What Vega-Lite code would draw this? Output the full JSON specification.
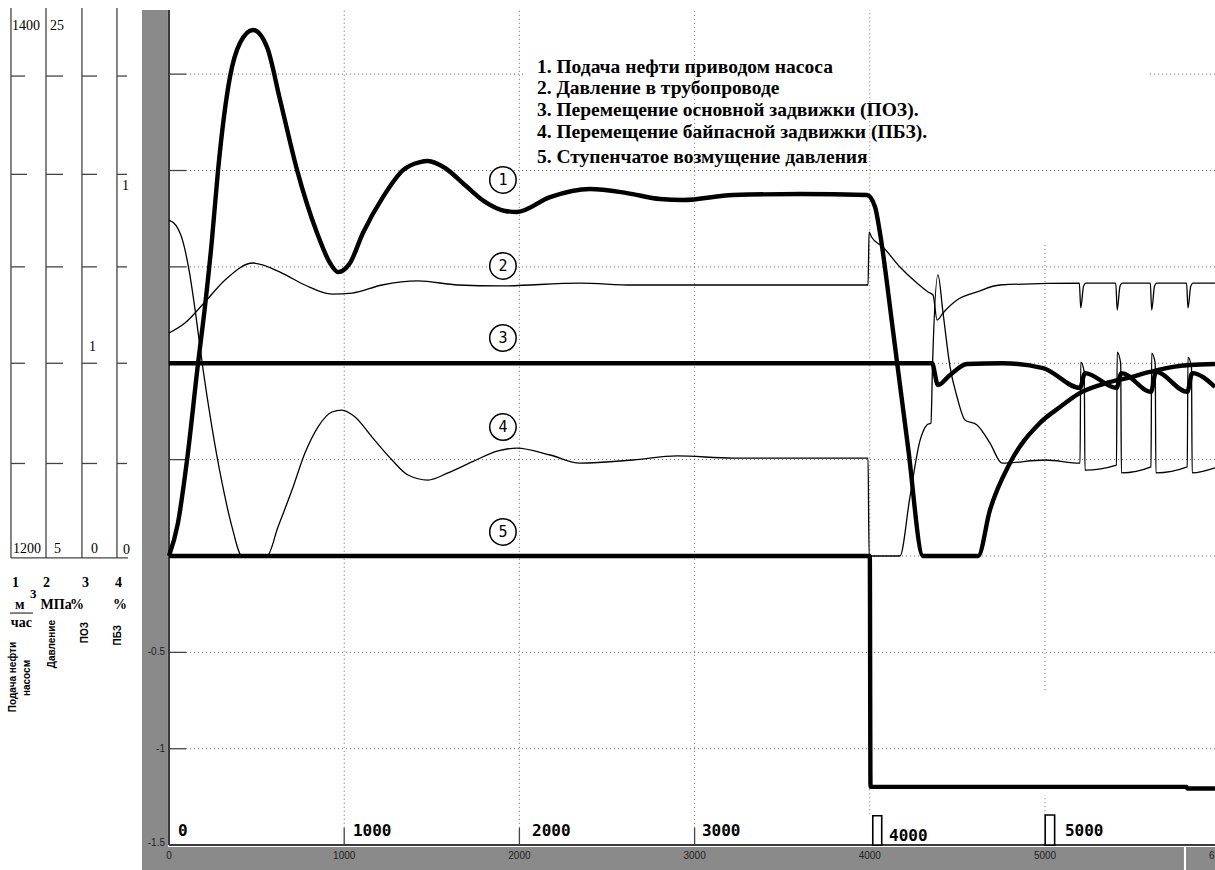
{
  "$schema": "https://vega.github.io/schema/vega-lite/v6.json",
  "width": 1215,
  "height": 870,
  "padding": 0,
  "autosize": {"type": "none"},
  "background": "white",
  "config": {"view": {"stroke": null}},
  "datasets": {
    "bands": [
      {"x": -154, "x2": -6, "y": -1.63, "y2": 2.833},
      {"x": -154, "x2": 5793, "y": -1.63, "y2": -1.51},
      {"x": 5805, "x2": 5990, "y": -1.63, "y2": -1.51}
    ],
    "grid": [
      {"x": 1000, "x2": 1000, "y": -1.41, "y2": 2.833},
      {"x": 2000, "x2": 2000, "y": -1.41, "y2": 2.833},
      {"x": 3000, "x2": 3000, "y": -1.41, "y2": 2.833},
      {"x": 4000, "x2": 4000, "y": -1.34, "y2": 2.833},
      {"x": 5000, "x2": 5000, "y": -0.695, "y2": 1.613},
      {"x": 5000, "x2": 5000, "y": -1.345, "y2": -1.24},
      {"x": 97, "x2": 2032, "y": 2.5, "y2": 2.5},
      {"x": 5600, "x2": 5970, "y": 2.5, "y2": 2.5},
      {"x": 97, "x2": 5970, "y": 2.0, "y2": 2.0},
      {"x": 97, "x2": 5970, "y": 1.5, "y2": 1.5},
      {"x": 97, "x2": 5970, "y": 1.0, "y2": 1.0},
      {"x": 97, "x2": 5970, "y": 0.5, "y2": 0.5},
      {"x": 97, "x2": 5970, "y": 0.0, "y2": 0.0},
      {"x": 97, "x2": 5970, "y": -0.5, "y2": -0.5},
      {"x": 97, "x2": 5970, "y": -1.0, "y2": -1.0}
    ],
    "frame": [
      {"x": 0, "x2": 0, "y": -1.5, "y2": 2.833},
      {"x": 0, "x2": 5970, "y": -1.5, "y2": -1.5}
    ],
    "ticks": [
      {"x": 0, "x2": 97, "y": 2.5, "y2": 2.5},
      {"x": 0, "x2": 97, "y": 2.0, "y2": 2.0},
      {"x": 0, "x2": 97, "y": 1.5, "y2": 1.5},
      {"x": 0, "x2": 97, "y": 1.0, "y2": 1.0},
      {"x": 0, "x2": 97, "y": 0.5, "y2": 0.5},
      {"x": 0, "x2": 97, "y": -0.5, "y2": -0.5},
      {"x": 0, "x2": 97, "y": -1.0, "y2": -1.0},
      {"x": 1000, "x2": 1000, "y": -1.5, "y2": -1.41},
      {"x": 2000, "x2": 2000, "y": -1.5, "y2": -1.41},
      {"x": 3000, "x2": 3000, "y": -1.5, "y2": -1.41},
      {"x": -902, "x2": -902, "y": -0.01, "y2": 2.843},
      {"x": -702, "x2": -702, "y": -0.01, "y2": 2.843},
      {"x": -497, "x2": -497, "y": -0.01, "y2": 2.843},
      {"x": -297, "x2": -297, "y": -0.01, "y2": 2.843},
      {"x": -902, "x2": -234, "y": -0.01, "y2": -0.01},
      {"x": -902, "x2": -822, "y": 2.49, "y2": 2.49},
      {"x": -902, "x2": -810, "y": 1.98, "y2": 1.98},
      {"x": -902, "x2": -822, "y": 1.5, "y2": 1.5},
      {"x": -902, "x2": -822, "y": 1.0, "y2": 1.0},
      {"x": -902, "x2": -822, "y": 0.48, "y2": 0.48},
      {"x": -702, "x2": -605, "y": 2.49, "y2": 2.49},
      {"x": -702, "x2": -605, "y": 1.98, "y2": 1.98},
      {"x": -702, "x2": -605, "y": 1.5, "y2": 1.5},
      {"x": -702, "x2": -605, "y": 1.0, "y2": 1.0},
      {"x": -702, "x2": -605, "y": 0.48, "y2": 0.48},
      {"x": -497, "x2": -411, "y": 2.49, "y2": 2.49},
      {"x": -497, "x2": -411, "y": 1.98, "y2": 1.98},
      {"x": -497, "x2": -411, "y": 1.5, "y2": 1.5},
      {"x": -497, "x2": -411, "y": 1.0, "y2": 1.0},
      {"x": -497, "x2": -411, "y": 0.48, "y2": 0.48},
      {"x": -297, "x2": -240, "y": 2.49, "y2": 2.49},
      {"x": -297, "x2": -240, "y": 1.98, "y2": 1.98},
      {"x": -297, "x2": -240, "y": 1.5, "y2": 1.5},
      {"x": -297, "x2": -240, "y": 1.0, "y2": 1.0},
      {"x": -297, "x2": -240, "y": 0.48, "y2": 0.48},
      {"x": -908, "x2": -776, "y": -0.296, "y2": -0.296}
    ],
    "markers": [
      {"x": 4017, "x2": 4068, "y": -1.5, "y2": -1.348},
      {"x": 5001, "x2": 5055, "y": -1.5, "y2": -1.344}
    ],
    "curves": [
      {"s": "1", "x": 0, "y": 0},
      {"s": "1", "x": 51, "y": 0.171},
      {"s": "1", "x": 103, "y": 0.498},
      {"s": "1", "x": 166, "y": 1.001},
      {"s": "1", "x": 205, "y": 1.292},
      {"s": "1", "x": 245, "y": 1.639},
      {"s": "1", "x": 280, "y": 2.002},
      {"s": "1", "x": 348, "y": 2.485},
      {"s": "1", "x": 405, "y": 2.661},
      {"s": "1", "x": 479, "y": 2.729},
      {"s": "1", "x": 559, "y": 2.641},
      {"s": "1", "x": 634, "y": 2.366},
      {"s": "1", "x": 731, "y": 2.002},
      {"s": "1", "x": 845, "y": 1.676},
      {"s": "1", "x": 919, "y": 1.52},
      {"s": "1", "x": 965, "y": 1.473},
      {"s": "1", "x": 1033, "y": 1.52},
      {"s": "1", "x": 1107, "y": 1.676},
      {"s": "1", "x": 1221, "y": 1.862},
      {"s": "1", "x": 1336, "y": 2.002},
      {"s": "1", "x": 1433, "y": 2.044},
      {"s": "1", "x": 1478, "y": 2.049},
      {"s": "1", "x": 1575, "y": 2.013},
      {"s": "1", "x": 1689, "y": 1.925},
      {"s": "1", "x": 1804, "y": 1.837},
      {"s": "1", "x": 1918, "y": 1.79},
      {"s": "1", "x": 1986, "y": 1.785},
      {"s": "1", "x": 2175, "y": 1.862},
      {"s": "1", "x": 2403, "y": 1.904},
      {"s": "1", "x": 2614, "y": 1.883},
      {"s": "1", "x": 2803, "y": 1.852},
      {"s": "1", "x": 2934, "y": 1.847},
      {"s": "1", "x": 3219, "y": 1.873},
      {"s": "1", "x": 3602, "y": 1.878},
      {"s": "1", "x": 3984, "y": 1.873},
      {"s": "1", "x": 4030, "y": 1.811},
      {"s": "1", "x": 4058, "y": 1.676},
      {"s": "1", "x": 4132, "y": 1.172},
      {"s": "1", "x": 4218, "y": 0.566},
      {"s": "1", "x": 4304, "y": 0},
      {"s": "1", "x": 4618, "y": 0},
      {"s": "1", "x": 4686, "y": 0.239},
      {"s": "1", "x": 4800, "y": 0.482},
      {"s": "1", "x": 4971, "y": 0.69},
      {"s": "1", "x": 5086, "y": 0.773},
      {"s": "1", "x": 5200, "y": 0.846},
      {"s": "1", "x": 5354, "y": 0.898},
      {"s": "1", "x": 5468, "y": 0.923},
      {"s": "1", "x": 5599, "y": 0.955},
      {"s": "1", "x": 5731, "y": 0.981},
      {"s": "1", "x": 5828, "y": 0.991},
      {"s": "1", "x": 5970, "y": 0.996},

      {"s": "2", "x": 0, "y": 1.157},
      {"s": "2", "x": 91, "y": 1.209},
      {"s": "2", "x": 205, "y": 1.318},
      {"s": "2", "x": 320, "y": 1.432},
      {"s": "2", "x": 479, "y": 1.52},
      {"s": "2", "x": 645, "y": 1.468},
      {"s": "2", "x": 776, "y": 1.406},
      {"s": "2", "x": 930, "y": 1.359},
      {"s": "2", "x": 1045, "y": 1.364},
      {"s": "2", "x": 1216, "y": 1.406},
      {"s": "2", "x": 1421, "y": 1.427},
      {"s": "2", "x": 1650, "y": 1.406},
      {"s": "2", "x": 1889, "y": 1.401},
      {"s": "2", "x": 2346, "y": 1.416},
      {"s": "2", "x": 2648, "y": 1.406},
      {"s": "2", "x": 3990, "y": 1.406},
      {"s": "2", "x": 3996, "y": 1.68},
      {"s": "2", "x": 4010, "y": 1.655},
      {"s": "2", "x": 4075, "y": 1.603},
      {"s": "2", "x": 4172, "y": 1.499},
      {"s": "2", "x": 4269, "y": 1.416},
      {"s": "2", "x": 4332, "y": 1.37},
      {"s": "2", "x": 4361, "y": 1.354},
      {"s": "2", "x": 4384, "y": 1.224},
      {"s": "2", "x": 4418, "y": 1.261},
      {"s": "2", "x": 4498, "y": 1.328},
      {"s": "2", "x": 4612, "y": 1.37},
      {"s": "2", "x": 4743, "y": 1.406},
      {"s": "2", "x": 5196, "y": 1.416},
      {"s": "2", "x": 5204, "y": 1.287},
      {"s": "2", "x": 5220, "y": 1.4},
      {"s": "2", "x": 5232, "y": 1.416},
      {"s": "2", "x": 5404, "y": 1.416},
      {"s": "2", "x": 5412, "y": 1.276},
      {"s": "2", "x": 5428, "y": 1.4},
      {"s": "2", "x": 5440, "y": 1.416},
      {"s": "2", "x": 5601, "y": 1.416},
      {"s": "2", "x": 5609, "y": 1.276},
      {"s": "2", "x": 5625, "y": 1.4},
      {"s": "2", "x": 5637, "y": 1.416},
      {"s": "2", "x": 5808, "y": 1.416},
      {"s": "2", "x": 5816, "y": 1.287},
      {"s": "2", "x": 5832, "y": 1.4},
      {"s": "2", "x": 5844, "y": 1.416},
      {"s": "2", "x": 5970, "y": 1.416},

      {"s": "3", "x": 0, "y": 1.0},
      {"s": "3", "x": 4355, "y": 1.0},
      {"s": "3", "x": 4389, "y": 0.887},
      {"s": "3", "x": 4458, "y": 0.939},
      {"s": "3", "x": 4555, "y": 0.996},
      {"s": "3", "x": 4760, "y": 1.0},
      {"s": "3", "x": 4989, "y": 0.975},
      {"s": "3", "x": 5200, "y": 0.872},
      {"s": "3", "x": 5228, "y": 0.949},
      {"s": "3", "x": 5408, "y": 0.872},
      {"s": "3", "x": 5436, "y": 0.949},
      {"s": "3", "x": 5605, "y": 0.851},
      {"s": "3", "x": 5633, "y": 0.955},
      {"s": "3", "x": 5812, "y": 0.851},
      {"s": "3", "x": 5840, "y": 0.949},
      {"s": "3", "x": 5970, "y": 0.877},

      {"s": "4", "x": 0, "y": 1.743},
      {"s": "4", "x": 40, "y": 1.715},
      {"s": "4", "x": 80, "y": 1.63},
      {"s": "4", "x": 115, "y": 1.48},
      {"s": "4", "x": 150, "y": 1.27},
      {"s": "4", "x": 194, "y": 0.97},
      {"s": "4", "x": 245, "y": 0.669},
      {"s": "4", "x": 303, "y": 0.379},
      {"s": "4", "x": 360, "y": 0.15},
      {"s": "4", "x": 417, "y": 0},
      {"s": "4", "x": 559, "y": 0},
      {"s": "4", "x": 622, "y": 0.15},
      {"s": "4", "x": 702, "y": 0.342},
      {"s": "4", "x": 776, "y": 0.534},
      {"s": "4", "x": 850, "y": 0.669},
      {"s": "4", "x": 930, "y": 0.747},
      {"s": "4", "x": 987, "y": 0.757},
      {"s": "4", "x": 1062, "y": 0.721},
      {"s": "4", "x": 1159, "y": 0.617},
      {"s": "4", "x": 1273, "y": 0.498},
      {"s": "4", "x": 1364, "y": 0.42},
      {"s": "4", "x": 1478, "y": 0.394},
      {"s": "4", "x": 1592, "y": 0.431},
      {"s": "4", "x": 1729, "y": 0.488},
      {"s": "4", "x": 1878, "y": 0.545},
      {"s": "4", "x": 1986, "y": 0.56},
      {"s": "4", "x": 2175, "y": 0.524},
      {"s": "4", "x": 2346, "y": 0.482},
      {"s": "4", "x": 2648, "y": 0.498},
      {"s": "4", "x": 2900, "y": 0.519},
      {"s": "4", "x": 3219, "y": 0.508},
      {"s": "4", "x": 3990, "y": 0.508},
      {"s": "4", "x": 3996, "y": 0},
      {"s": "4", "x": 4172, "y": 0},
      {"s": "4", "x": 4229, "y": 0.306},
      {"s": "4", "x": 4286, "y": 0.597},
      {"s": "4", "x": 4326, "y": 0.68},
      {"s": "4", "x": 4349, "y": 0.69},
      {"s": "4", "x": 4358, "y": 0.99},
      {"s": "4", "x": 4389, "y": 1.458},
      {"s": "4", "x": 4418, "y": 1.261},
      {"s": "4", "x": 4458, "y": 0.981},
      {"s": "4", "x": 4498, "y": 0.825},
      {"s": "4", "x": 4543, "y": 0.706},
      {"s": "4", "x": 4612, "y": 0.68},
      {"s": "4", "x": 4686, "y": 0.586},
      {"s": "4", "x": 4755, "y": 0.482},
      {"s": "4", "x": 5000, "y": 0.498},
      {"s": "4", "x": 5200, "y": 0.482},
      {"s": "4", "x": 5204, "y": 1.006},
      {"s": "4", "x": 5224, "y": 0.955},
      {"s": "4", "x": 5228, "y": 0.446},
      {"s": "4", "x": 5408, "y": 0.472},
      {"s": "4", "x": 5412, "y": 1.058},
      {"s": "4", "x": 5432, "y": 1.0},
      {"s": "4", "x": 5436, "y": 0.431},
      {"s": "4", "x": 5605, "y": 0.462},
      {"s": "4", "x": 5609, "y": 1.053},
      {"s": "4", "x": 5629, "y": 1.0},
      {"s": "4", "x": 5633, "y": 0.431},
      {"s": "4", "x": 5812, "y": 0.462},
      {"s": "4", "x": 5816, "y": 1.032},
      {"s": "4", "x": 5836, "y": 0.98},
      {"s": "4", "x": 5840, "y": 0.431},
      {"s": "4", "x": 5970, "y": 0.457},

      {"s": "5", "x": 0, "y": 0},
      {"s": "5", "x": 4000, "y": 0},
      {"s": "5", "x": 4004, "y": -1.198},
      {"s": "5", "x": 5808, "y": -1.198},
      {"s": "5", "x": 5812, "y": -1.206},
      {"s": "5", "x": 5970, "y": -1.206}
    ],
    "tags": [
      {"x": 1906, "y": 1.951, "t": "1"},
      {"x": 1906, "y": 1.505, "t": "2"},
      {"x": 1906, "y": 1.131, "t": "3"},
      {"x": 1906, "y": 0.669, "t": "4"},
      {"x": 1906, "y": 0.125, "t": "5"}
    ],
    "legendText": [
      {"x": 2100, "y": 2.537, "t": "1. Подача нефти приводом насоса"},
      {"x": 2100, "y": 2.428, "t": "2. Давление в трубопроводе"},
      {"x": 2100, "y": 2.314, "t": "3. Перемещение основной задвижки (ПОЗ)."},
      {"x": 2100, "y": 2.2, "t": "4. Перемещение байпасной задвижки (ПБЗ)."},
      {"x": 2100, "y": 2.07, "t": "5. Ступенчатое возмущение давления"}
    ],
    "digitalLabels": [
      {"x": 51, "y": -1.427, "t": "0"},
      {"x": 1050, "y": -1.427, "t": "1000"},
      {"x": 2072, "y": -1.427, "t": "2000"},
      {"x": 3042, "y": -1.427, "t": "3000"},
      {"x": 4110, "y": -1.453, "t": "4000"},
      {"x": 5114, "y": -1.427, "t": "5000"}
    ],
    "xLabels": [
      {"x": 0, "y": -1.556, "t": "0"},
      {"x": 1000, "y": -1.556, "t": "1000"},
      {"x": 2000, "y": -1.556, "t": "2000"},
      {"x": 3000, "y": -1.556, "t": "3000"},
      {"x": 4000, "y": -1.556, "t": "4000"},
      {"x": 5000, "y": -1.556, "t": "5000"},
      {"x": 6000, "y": -1.556, "t": "6000"}
    ],
    "yLabels": [
      {"x": -23, "y": -0.5, "t": "-0.5"},
      {"x": -23, "y": -1.0, "t": "-1"},
      {"x": -23, "y": -1.49, "t": "-1.5"}
    ],
    "scaleLabels": [
      {"x": -896, "y": 2.75, "t": "1400"},
      {"x": -679, "y": 2.75, "t": "25"},
      {"x": -268, "y": 1.92, "t": "1"},
      {"x": -457, "y": 1.084, "t": "1"},
      {"x": -890, "y": 0.036, "t": "1200"},
      {"x": -656, "y": 0.036, "t": "5"},
      {"x": -445, "y": 0.036, "t": "0"},
      {"x": -263, "y": 0.031, "t": "0"}
    ],
    "unitLabels": [
      {"x": -896, "y": -0.14, "t": "1"},
      {"x": -719, "y": -0.14, "t": "2"},
      {"x": -497, "y": -0.14, "t": "3"},
      {"x": -308, "y": -0.14, "t": "4"},
      {"x": -879, "y": -0.254, "t": "м"},
      {"x": -733, "y": -0.254, "t": "МПа"},
      {"x": -565, "y": -0.254, "t": "%"},
      {"x": -320, "y": -0.254, "t": "%"},
      {"x": -903, "y": -0.35, "t": "час"}
    ],
    "superscript": [
      {"x": -793, "y": -0.197, "t": "3"}
    ],
    "sideCentered": [
      {"x": -888, "y": -0.628, "t": "Подача нефти"},
      {"x": -812, "y": -0.633, "t": "насосм"}
    ],
    "sideTop": [
      {"x": -670, "y": -0.332, "t": "Давление"},
      {"x": -479, "y": -0.342, "t": "ПОЗ"},
      {"x": -289, "y": -0.358, "t": "ПБЗ"}
    ]
  },
  "encoding": {
    "x": {"field": "x", "type": "quantitative", "axis": null,
          "scale": {"domain": [-964.6, 5970.3], "nice": false, "zero": false}},
    "y": {"field": "y", "type": "quantitative", "axis": null,
          "scale": {"domain": [-1.6291, 2.8846], "nice": false, "zero": false}}
  },
  "layer": [
    {
      "data": {"name": "bands"},
      "mark": {"type": "rect", "color": "#8a8a8a"},
      "encoding": {"x2": {"field": "x2"}, "y2": {"field": "y2"}}
    },
    {
      "data": {"name": "grid"},
      "mark": {"type": "rule", "color": "#6a6a6a", "strokeWidth": 1, "strokeDash": [1, 3]},
      "encoding": {"x2": {"field": "x2"}, "y2": {"field": "y2"}}
    },
    {
      "data": {"name": "ticks"},
      "mark": {"type": "rule", "color": "#444444", "strokeWidth": 1.3},
      "encoding": {"x2": {"field": "x2"}, "y2": {"field": "y2"}}
    },
    {
      "data": {"name": "frame"},
      "mark": {"type": "rule", "color": "#3a3a3a", "strokeWidth": 2},
      "encoding": {"x2": {"field": "x2"}, "y2": {"field": "y2"}}
    },
    {
      "data": {"name": "markers"},
      "mark": {"type": "rect", "fill": "white", "stroke": "black", "strokeWidth": 1.6},
      "encoding": {"x2": {"field": "x2"}, "y2": {"field": "y2"}}
    },
    {
      "data": {"name": "curves"},
      "transform": [{"filter": {"field": "s", "oneOf": ["2", "4"]}}],
      "mark": {"type": "line", "interpolate": "monotone", "color": "black", "strokeWidth": 1.3, "strokeJoin": "round"},
      "encoding": {"detail": {"field": "s", "type": "nominal"}}
    },
    {
      "data": {"name": "curves"},
      "transform": [{"filter": {"field": "s", "oneOf": ["1", "3", "5"]}}],
      "mark": {"type": "line", "interpolate": "monotone", "color": "black", "strokeWidth": 4.4, "strokeJoin": "round"},
      "encoding": {"detail": {"field": "s", "type": "nominal"}}
    },
    {
      "data": {"name": "tags"},
      "mark": {"type": "point", "shape": "circle", "filled": true, "fill": "white", "stroke": "black", "strokeWidth": 1.5, "size": 700, "opacity": 1}
    },
    {
      "data": {"name": "tags"},
      "mark": {"type": "text", "font": "DejaVu Sans Mono", "fontSize": 15, "color": "black", "align": "center", "baseline": "middle"},
      "encoding": {"text": {"field": "t"}}
    },
    {
      "data": {"name": "legendText"},
      "mark": {"type": "text", "font": "Liberation Serif", "fontWeight": "bold", "fontSize": 19.5, "color": "black", "align": "left", "baseline": "middle"},
      "encoding": {"text": {"field": "t"}}
    },
    {
      "data": {"name": "digitalLabels"},
      "mark": {"type": "text", "font": "DejaVu Sans Mono", "fontWeight": "bold", "fontSize": 16, "color": "black", "align": "left", "baseline": "middle"},
      "encoding": {"text": {"field": "t"}}
    },
    {
      "data": {"name": "xLabels"},
      "mark": {"type": "text", "font": "Liberation Sans", "fontSize": 10, "color": "#222222", "align": "center", "baseline": "middle"},
      "encoding": {"text": {"field": "t"}}
    },
    {
      "data": {"name": "yLabels"},
      "mark": {"type": "text", "font": "Liberation Sans", "fontSize": 10, "color": "#222222", "align": "right", "baseline": "middle"},
      "encoding": {"text": {"field": "t"}}
    },
    {
      "data": {"name": "scaleLabels"},
      "mark": {"type": "text", "font": "Liberation Serif", "fontSize": 14, "color": "black", "align": "left", "baseline": "middle"},
      "encoding": {"text": {"field": "t"}}
    },
    {
      "data": {"name": "unitLabels"},
      "mark": {"type": "text", "font": "Liberation Serif", "fontWeight": "bold", "fontSize": 14, "color": "black", "align": "left", "baseline": "middle"},
      "encoding": {"text": {"field": "t"}}
    },
    {
      "data": {"name": "superscript"},
      "mark": {"type": "text", "font": "Liberation Serif", "fontWeight": "bold", "fontSize": 13, "color": "black", "align": "left", "baseline": "middle"},
      "encoding": {"text": {"field": "t"}}
    },
    {
      "data": {"name": "sideCentered"},
      "mark": {"type": "text", "font": "Liberation Sans", "fontWeight": "bold", "fontSize": 10, "color": "black", "angle": 270, "align": "center", "baseline": "middle"},
      "encoding": {"text": {"field": "t"}}
    },
    {
      "data": {"name": "sideTop"},
      "mark": {"type": "text", "font": "Liberation Sans", "fontWeight": "bold", "fontSize": 10, "color": "black", "angle": 270, "align": "right", "baseline": "middle"},
      "encoding": {"text": {"field": "t"}}
    }
  ]
}
